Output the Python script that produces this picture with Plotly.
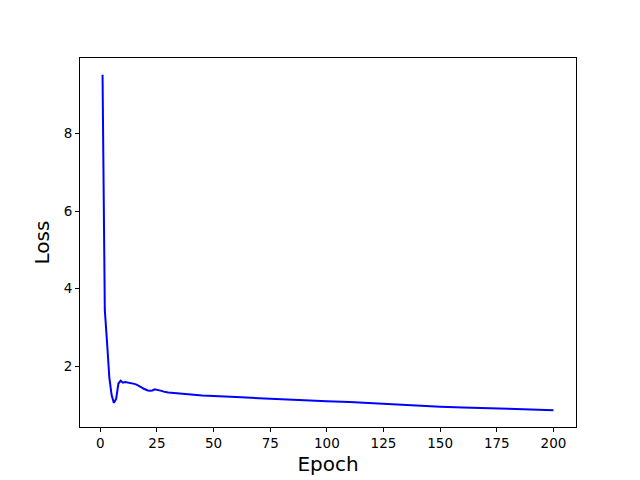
import plotly.graph_objects as go

epochs = [1, 2, 3, 4, 5, 6, 7, 8, 9, 10, 11, 12, 13, 14, 15, 16, 17, 18, 19, 20,
          21, 22, 23, 24, 25, 26, 27, 28, 29, 30, 35, 40, 45, 50, 55, 60, 70, 80,
          90, 100, 110, 120, 130, 140, 150, 160, 170, 180, 190, 200]
loss = [9.52, 3.45, 2.6, 1.7, 1.25, 1.05, 1.15, 1.55, 1.62, 1.57, 1.59, 1.58, 1.57,
        1.55, 1.54, 1.52, 1.50, 1.46, 1.42, 1.39, 1.37, 1.36, 1.37, 1.40, 1.39, 1.37,
        1.36, 1.34, 1.33, 1.32, 1.29, 1.26, 1.24, 1.23, 1.22, 1.20, 1.17, 1.14, 1.12,
        1.09, 1.07, 1.04, 1.01, 0.97, 0.95, 0.93, 0.92, 0.90, 0.88, 0.86]

xmin, xmax = min(epochs), max(epochs)
ymin, ymax = min(loss), max(loss)
xpad = (xmax - xmin) * 0.05
ypad = (ymax - ymin) * 0.05

fig = go.Figure(go.Scatter(x=epochs, y=loss, mode="lines",
                           line=dict(color="blue", width=2)))

axis_common = dict(showline=True, linecolor="black", linewidth=1, mirror=True,
                   ticks="outside", ticklen=4, tickcolor="black", showgrid=False,
                   zeroline=False, tickfont=dict(family="DejaVu Sans", size=13.5, color="black"))

fig.update_layout(
    width=640, height=480,
    margin=dict(l=72, r=72, t=50, b=61),
    plot_bgcolor="white", paper_bgcolor="white",
    showlegend=False,
    xaxis=dict(range=[xmin - xpad, xmax + xpad], tickvals=[0, 25, 50, 75, 100, 125, 150, 175, 200],
               title=dict(text="Epoch", font=dict(family="DejaVu Sans", size=20, color="black"), standoff=6),
               **axis_common),
    yaxis=dict(range=[ymin - ypad, ymax + ypad], tickvals=[2, 4, 6, 8],
               title=dict(text="Loss", font=dict(family="DejaVu Sans", size=20, color="black"), standoff=8),
               **axis_common),
)

fig.write_html("out.html")
